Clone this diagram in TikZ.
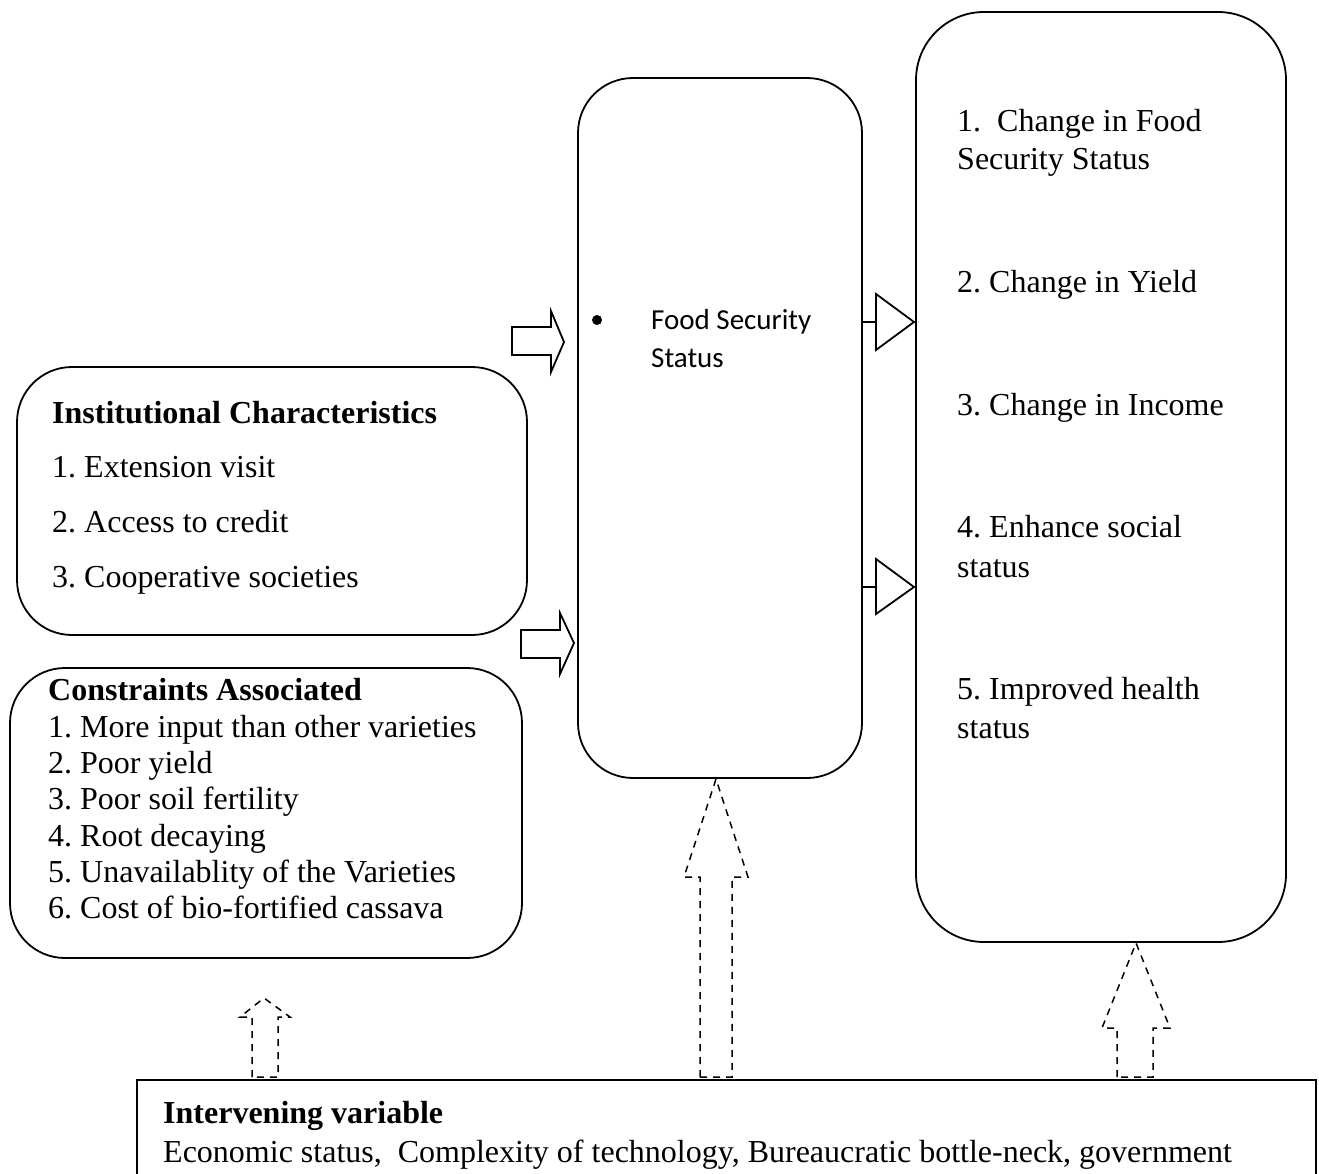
\documentclass[tikz,border=0pt]{standalone}
\usepackage{fontspec}
\setmainfont{Liberation Serif}
\newfontfamily\calib{Carlito}
\frenchspacing
\begin{document}
\begin{tikzpicture}[x=1pt,y=-1pt,
  rbox/.style={draw,line width=1.8pt,rounded corners=55pt},
  blk/.style={draw,line width=1.8pt,line join=miter},
  dsh/.style={draw,line width=1.5pt,dash pattern=on 7pt off 6pt},
  txt/.style={anchor=base west,inner sep=0pt,font=\fontsize{32}{37}\selectfont},
  btxt/.style={txt,font=\fontsize{32}{37}\selectfont\bfseries},
  stxt/.style={anchor=base west,inner sep=0pt,font=\calib\fontsize{29}{34}\selectfont}]
\useasboundingbox (0,0) rectangle (1319,1174);
% boxes
\draw[rbox] (17,367) rectangle (527,635);
\draw[rbox] (10,668) rectangle (522,958);
\draw[rbox] (578,78) rectangle (862,778);
\draw[rbox,rounded corners=68pt] (916,12) rectangle (1286,942);
\draw[line width=1.8pt] (137,1174) -- (137,1080) -- (1316,1080) -- (1316,1174);
% corner coordinates
\coordinate (midR1) at (862,322);
\coordinate (midR2) at (862,587);
% block arrows left
\draw[blk] (512,327) -- (551,327) -- (551,311) -- (564,342) -- (551,372) -- (551,355) -- (512,355) -- cycle;
\draw[blk] (521,630) -- (560,630) -- (560,613) -- (574,643) -- (560,674) -- (560,658) -- (521,658) -- cycle;
% triangles right
\draw[line width=1.8pt] (midR1) -- (876,322);
\draw[line width=1.8pt] (876,294) -- (914,322) -- (876,350) -- cycle;
\draw[line width=1.8pt] (midR2) -- (876,587);
\draw[line width=1.8pt] (876,559) -- (914,587) -- (876,614) -- cycle;
% dashed arrows
\draw[dsh] (252,1077) -- (252,1017) -- (240,1017) -- (264,998) -- (290,1017) -- (278,1017) -- (278,1077) -- cycle;
\draw[dsh] (700,1077) -- (700,877) -- (684,877) -- (716,779) -- (748,877) -- (732,877) -- (732,1077) -- cycle;
\draw[dsh] (1117,1077) -- (1117,1028) -- (1102,1028) -- (1136,943) -- (1170,1028) -- (1153,1028) -- (1153,1077) -- cycle;
% texts
\node[btxt] (it) at (52,423) {Institutional Characteristics};
\node[txt] (i1) at (52,477) {1. Extension visit};
\node[txt] (i2) at (52,532) {2. Access to credit};
\node[txt] (i3) at (52,587) {3. Cooperative societies};
\node[btxt] (ct) at (48,700) {Constraints Associated};
\node[txt] (c1) at (48,737) {1. More input than other varieties};
\node[txt] (c2) at (48,773) {2. Poor yield};
\node[txt] (c3) at (48,809) {3. Poor soil fertility};
\node[txt] (c4) at (48,846) {4. Root decaying};
\node[txt] (c5) at (48,882) {5. Unavailablity of the Varieties};
\node[txt] (c6) at (48,918) {6. Cost of bio-fortified cassava};
\fill (597,320) circle (5pt);
\node[stxt] (m1) at (651,329) {Food Security};
\node[stxt] (m2) at (651,367) {Status};
\node[txt] (r1) at (957,132) {1.\ \ Change in Food};
\node[txt] (r1b) at (957,170) {Security Status};
\node[txt] (r2) at (957,292) {2. Change in Yield};
\node[txt] (r3) at (957,415) {3. Change in Income};
\node[txt] (r4) at (957,537) {4. Enhance social};
\node[txt] (r4b) at (957,577) {status};
\node[txt] (r5) at (957,699) {5. Improved health};
\node[txt] (r5b) at (957,738) {status};
\node[btxt] (bt) at (163,1123) {Intervening variable};
\node[txt] (b1) at (163,1162) {Economic status,\ \ Complexity of technology, Bureaucratic bottle-neck, government};
\end{tikzpicture}
\end{document}
